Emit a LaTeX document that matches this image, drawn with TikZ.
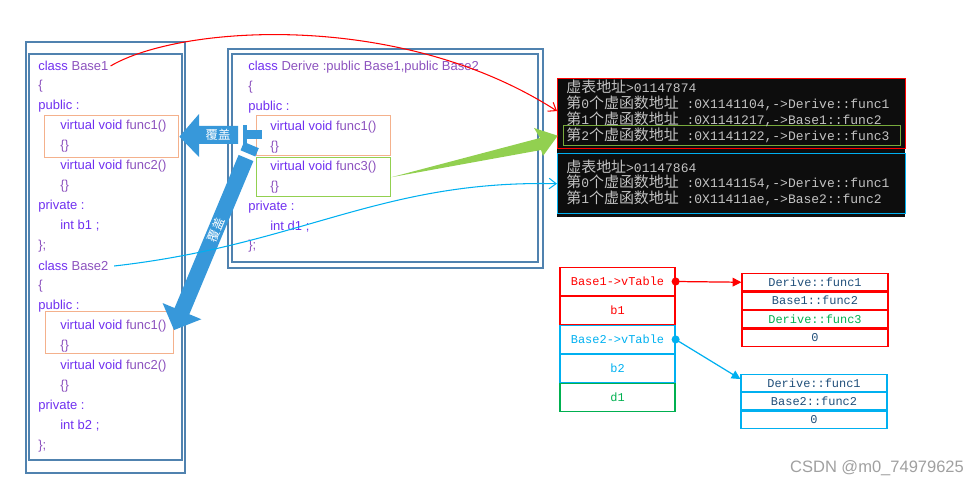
\documentclass[tikz,border=0pt]{standalone}
\usepackage{fontspec}
\setmainfont{Liberation Sans}
\setmonofont{Liberation Mono}
\newfontfamily\cjk{Noto Sans CJK SC}
\newfontfamily\cjkcon[Scale=1.15]{Noto Sans CJK SC}
\usetikzlibrary{arrows.meta, positioning}

\definecolor{kwc}{RGB}{112,48,240}
\definecolor{idc}{RGB}{140,82,190}
\definecolor{framec}{RGB}{80,130,175}
\definecolor{orangeb}{RGB}{244,177,140}
\definecolor{greenb}{RGB}{146,208,80}
\definecolor{conred}{RGB}{255,0,0}
\definecolor{cyanb}{RGB}{0,176,240}
\definecolor{memtxt}{RGB}{31,78,121}
\definecolor{memgreen}{RGB}{0,176,80}
\definecolor{blockblue}{RGB}{55,152,218}
\definecolor{contxt}{RGB}{195,195,195}
\definecolor{hlgreen}{RGB}{120,170,60}
\definecolor{wmark}{RGB}{160,160,160}

\newcommand{\kwd}[1]{\textcolor{kwc}{#1}}
\newcommand{\idt}[1]{\textcolor{idc}{#1}}
\newcommand{\cn}[1]{{\cjkcon #1}}

\begin{document}
\begin{tikzpicture}[x=0.02cm, y=-0.02cm,
  code/.style  = {anchor=west, inner sep=0pt, font=\fontsize{7.4}{9}\selectfont},
  cbox/.style  = {draw=framec, line width=0.8pt},
  hbox/.style  = {draw=#1, line width=0.8pt, anchor=north west, inner sep=0pt},
  con/.style   = {anchor=west, inner sep=0pt, text=contxt,
                  font=\ttfamily\fontsize{7.4}{9}\selectfont},
  mem/.style   = {draw=#1, line width=0.7pt, inner sep=0pt,
                  font=\ttfamily\fontsize{6.8}{8}\selectfont},
  cell/.style  = {mem=#1, minimum width=2.3cm, minimum height=0.555cm},
  slot/.style  = {mem=#1, minimum width=2.92cm, minimum height=0.345cm, text=memtxt},
  over/.style  = {text=white, inner sep=0pt, font=\cjk\fontsize{7}{8}\selectfont},
  link/.style  = {line width=0.6pt, -{Straight Barb[length=4pt,width=6pt]}},
  ptr/.style   = {line width=0.7pt, -{Triangle[length=5pt,width=5pt]}},
]
\useasboundingbox (0,0) rectangle (979,486);

% ── class Base1 / class Base2 ─────────────────────────────────────────────
\draw[cbox] (26,42) rectangle (185,473);
\draw[cbox] (29,54) rectangle (182,460);

\node[code] (l0)  at (38,66)  {\kwd{class} \idt{Base1}};
\node[code] (l1)  at (38,86)  {\idt{\{}};
\node[code] (l2)  at (38,106) {\kwd{public :}};
\node[code] (l3)  at (60,126) {\kwd{virtual void} \idt{func1()}};
\node[code] (l4)  at (60,146) {\idt{\{\}}};
\node[code] (l5)  at (60,166) {\kwd{virtual void} \idt{func2()}};
\node[code] (l6)  at (60,186) {\idt{\{\}}};
\node[code] (l7)  at (38,206) {\kwd{private :}};
\node[code] (l8)  at (60,226) {\kwd{int} \kwd{b1 ;}};
\node[code] (l9)  at (38,246) {\idt{\};}};
\node[code] (l10) at (38,266) {\kwd{class} \idt{Base2}};
\node[code] (l11) at (38,286) {\idt{\{}};
\node[code] (l12) at (38,306) {\kwd{public :}};
\node[code] (l13) at (60,326) {\kwd{virtual void} \idt{func1()}};
\node[code] (l14) at (60,346) {\idt{\{\}}};
\node[code] (l15) at (60,366) {\kwd{virtual void} \idt{func2()}};
\node[code] (l16) at (60,386) {\idt{\{\}}};
\node[code] (l17) at (38,406) {\kwd{private :}};
\node[code] (l18) at (60,426) {\kwd{int} \kwd{b2 ;}};
\node[code] (l19) at (38,446) {\idt{\};}};

\node[hbox=orangeb, minimum width=2.68cm, minimum height=0.84cm] (b1f1) at (44,115) {};
\node[hbox=orangeb, minimum width=2.56cm, minimum height=0.84cm] (b2f1) at (45,311) {};

% ── class Derive ──────────────────────────────────────────────────────────
\draw[cbox] (228,49) rectangle (543,268);
\draw[cbox] (232,54) rectangle (538,262);

\node[code] (d0) at (248,67)  {\kwd{class} \idt{Derive :public Base1,public Base2}};
\node[code] (d1) at (248,87)  {\idt{\{}};
\node[code] (d2) at (248,107) {\kwd{public :}};
\node[code] (d3) at (270,127) {\kwd{virtual void} \idt{func1()}};
\node[code] (d4) at (270,147) {\idt{\{\}}};
\node[code] (d5) at (270,167) {\kwd{virtual void} \idt{func3()}};
\node[code] (d6) at (270,187) {\idt{\{\}}};
\node[code] (d7) at (248,207) {\kwd{private :}};
\node[code] (d8) at (270,227) {\kwd{int} \kwd{d1 ;}};
\node[code] (d9) at (248,246) {\idt{\};}};

\node[hbox=orangeb, minimum width=2.68cm, minimum height=0.8cm]  (f1box) at (256,115) {};
\node[hbox=greenb,  minimum width=2.68cm, minimum height=0.78cm] (f3box) at (256,157) {};

% ── console output ────────────────────────────────────────────────────────
\fill[black!95] (557,78) rectangle (905,217);
\node[hbox=conred, minimum width=6.96cm, minimum height=1.4cm] (con1) at (557,78) {};
\node[hbox=cyanb,  minimum width=6.96cm, minimum height=1.2cm] (con2) at (557,153) {};
\node[hbox=hlgreen, minimum width=6.74cm, minimum height=0.4cm] (hl) at (563,125) {};

\node[con] (c1a) at (566,87)  {\cn{虚表地址}>01147874};
\node[con] (c1b) at (566,103) {\cn{第}0\cn{个虚函数地址} :0X1141104,->Derive::func1};
\node[con] (c1c) at (566,119) {\cn{第}1\cn{个虚函数地址} :0X1141217,->Base1::func2};
\node[con] (c1d) at (566,135) {\cn{第}2\cn{个虚函数地址} :0X1141122,->Derive::func3};
\node[con] (c2a) at (566,167) {\cn{虚表地址}>01147864};
\node[con] (c2b) at (566,182) {\cn{第}0\cn{个虚函数地址} :0X1141154,->Derive::func1};
\node[con] (c2c) at (566,198) {\cn{第}1\cn{个虚函数地址} :0X11411ae,->Base2::func2};

% ── object layout ─────────────────────────────────────────────────────────
\node[cell=conred, text=conred] (v1) at (617.5,281.5) {Base1->vTable};
\node[cell=conred, text=conred, below=0pt of v1] (m1) {b1};
\node[cell=cyanb, text=cyanb, below=0pt of m1] (v2) {Base2->vTable};
\node[cell=cyanb, text=cyanb, below=0pt of v2] (m2) {b2};
\node[cell=memgreen, text=memgreen, below=0pt of m2] (m3) {d1};

\node[slot=conred] (t1a) at (815,282.25) {Derive::func1};
\node[slot=conred, below=0pt of t1a] (t1b) {Base1::func2};
\node[slot=conred, text=memgreen, below=0pt of t1b] (t1c) {Derive::func3};
\node[slot=conred, below=0pt of t1c] (t1d) {0};

\node[slot=cyanb] (t2a) at (814,383) {Derive::func1};
\node[slot=cyanb, below=0pt of t2a] (t2b) {Base2::func2};
\node[slot=cyanb, below=0pt of t2b] (t2c) {0};

\draw[ptr, conred] (v1.east) -- (t1a.west);
\fill[conred] (v1.east) circle (2.3pt);
\draw[ptr, cyanb] (v2.east) -- ([yshift=-3pt]t2a.north west);
\fill[cyanb] (v2.east) circle (2.3pt);

% ── override arrows ───────────────────────────────────────────────────────
\fill[blockblue] (b1f1.east) -- (199,114) -- (199,126) -- (238,126) -- (238,144)
  -- (199,144) -- (199,157) -- cycle;
\fill[blockblue] (243,125) rectangle (247,144);
\fill[blockblue] (247,130) rectangle (262,139);
\node[over] (ov1) at (218,135) {覆盖};

\begin{scope}[shift={(246,158)}, rotate=247.3]
  \fill[blockblue] (0,-8) -- (166,-8) -- (166,-21) -- (186.5,0) -- (166,21)
    -- (166,8) -- (0,8) -- cycle;
  \fill[blockblue] (-14,-8) rectangle (-5,8);
\end{scope}
\node[over, rotate=67.3] (ov2) at (216,230) {覆盖};

% ── links to the console ──────────────────────────────────────────────────
\draw[link, conred] ([xshift=1pt]l0.east) .. controls (180,25) and (400,10)
  .. ([yshift=1.5pt]con1.west);
\draw[link, cyanb] ([xshift=3pt]l10.east) .. controls (300,245) and (380,180)
  .. (con2.west);

\fill[greenb] (f3box.east) -- (540,138) -- (534,128) -- ([xshift=-3pt]hl.west)
  -- (543,156) -- (541,150) -- cycle;

\node[font=\fontsize{9.4}{11}\selectfont, text=wmark] (mark) at (877,468) {CSDN @m0\_74979625};

\end{tikzpicture}
\end{document}
